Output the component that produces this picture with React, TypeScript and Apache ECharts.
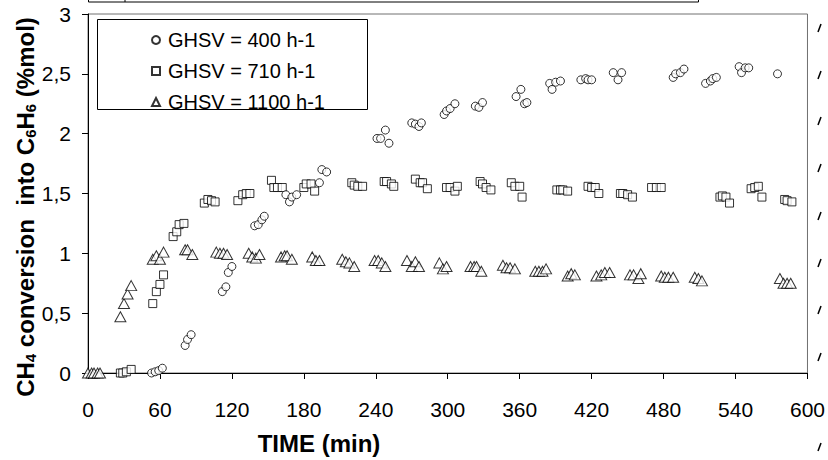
import React, { useEffect, useRef } from 'react';
import * as echarts from 'echarts';

const xTicks = { min: 0, max: 600, interval: 60 };
const yTicks = { min: 0, max: 3, interval: 0.5 };

const seriesNames = ['GHSV = 400 h-1', 'GHSV = 710 h-1', 'GHSV = 1100 h-1'];

const time400 = [53, 56, 59, 62, 81, 83, 86, 112, 115, 117, 120, 139, 142, 145, 147, 165, 168, 170, 174, 193, 195, 199, 241, 244, 248, 251, 270, 273, 276, 278, 297, 299, 302, 306, 323, 326, 329, 357, 361, 364, 366, 385, 387, 390, 394, 411, 415, 417, 420, 438, 442, 445, 488, 490, 494, 497, 515, 519, 521, 524, 543, 545, 548, 551, 575];
const conv400 = [0, 0.01, 0.02, 0.04, 0.23, 0.28, 0.32, 0.68, 0.72, 0.84, 0.89, 1.23, 1.24, 1.28, 1.31, 1.49, 1.43, 1.47, 1.49, 1.59, 1.7, 1.68, 1.96, 1.96, 2.03, 1.92, 2.09, 2.08, 2.06, 2.09, 2.16, 2.19, 2.21, 2.25, 2.23, 2.22, 2.26, 2.31, 2.37, 2.25, 2.26, 2.42, 2.37, 2.43, 2.44, 2.45, 2.46, 2.45, 2.45, 2.51, 2.45, 2.51, 2.47, 2.5, 2.51, 2.54, 2.42, 2.44, 2.46, 2.47, 2.56, 2.51, 2.55, 2.55, 2.5];

const time710 = [27, 29, 32, 36, 54, 57, 60, 63, 71, 74, 76, 80, 97, 100, 103, 106, 125, 129, 132, 135, 153, 155, 158, 162, 180, 182, 186, 189, 220, 222, 225, 229, 247, 249, 253, 255, 273, 277, 279, 283, 299, 302, 306, 308, 327, 329, 332, 336, 353, 356, 360, 362, 391, 394, 396, 400, 417, 420, 423, 426, 444, 446, 450, 454, 470, 474, 478, 527, 529, 532, 535, 553, 556, 559, 562, 581, 583, 587];
const conv710 = [0, 0, 0.01, 0.03, 0.58, 0.68, 0.74, 0.82, 1.14, 1.18, 1.24, 1.25, 1.42, 1.45, 1.44, 1.43, 1.44, 1.49, 1.5, 1.5, 1.61, 1.55, 1.55, 1.55, 1.55, 1.58, 1.58, 1.52, 1.59, 1.57, 1.56, 1.56, 1.6, 1.6, 1.58, 1.56, 1.62, 1.59, 1.59, 1.54, 1.55, 1.55, 1.52, 1.56, 1.6, 1.58, 1.55, 1.53, 1.59, 1.56, 1.56, 1.47, 1.53, 1.53, 1.53, 1.52, 1.56, 1.55, 1.55, 1.5, 1.5, 1.5, 1.49, 1.47, 1.55, 1.55, 1.55, 1.47, 1.48, 1.47, 1.42, 1.54, 1.55, 1.56, 1.47, 1.45, 1.44, 1.43];

const time1100 = [0, 3, 5, 8, 10, 27, 30, 33, 36, 54, 57, 60, 63, 81, 83, 87, 107, 110, 113, 116, 134, 137, 140, 143, 161, 164, 166, 170, 187, 190, 193, 212, 215, 218, 222, 239, 242, 245, 248, 266, 270, 273, 276, 293, 296, 299, 319, 322, 324, 328, 346, 349, 352, 356, 373, 376, 379, 382, 400, 403, 406, 424, 428, 431, 435, 452, 455, 459, 461, 478, 481, 484, 488, 506, 509, 512, 577, 580, 583, 586];
const conv1100 = [0, 0, 0, 0, 0, 0.47, 0.58, 0.66, 0.73, 0.95, 0.98, 0.95, 1.01, 1.03, 1.03, 0.99, 1.01, 1.0, 1.0, 0.99, 1.0, 0.97, 0.96, 0.99, 0.97, 0.98, 0.98, 0.95, 0.97, 0.94, 0.94, 0.95, 0.93, 0.92, 0.89, 0.94, 0.94, 0.92, 0.89, 0.94, 0.89, 0.93, 0.89, 0.92, 0.87, 0.89, 0.89, 0.89, 0.89, 0.85, 0.9, 0.88, 0.88, 0.87, 0.85, 0.85, 0.85, 0.87, 0.81, 0.83, 0.82, 0.81, 0.82, 0.84, 0.84, 0.82, 0.82, 0.79, 0.83, 0.81, 0.8, 0.8, 0.8, 0.8, 0.79, 0.77, 0.79, 0.75, 0.75, 0.75];

// clipped glyph fragments visible at the right edge of the picture (page y positions)
const edgeMarkY = [28, 75, 121, 168, 216, 263, 310, 357, 447];

const FONT = 'Arial, "Liberation Sans", sans-serif';

function zip(xs: number[], ys: number[]) {
  return xs.map((x, i) => [x, ys[i]]);
}

export default function App() {
  const ref = useRef<HTMLDivElement>(null);
  useEffect(() => {
    if (!ref.current) return;
    const chart = echarts.init(ref.current, undefined, { renderer: 'svg' });
    const markerStyle = { color: '#ffffff', borderColor: '#000000', borderWidth: 1 };
    const edgeMarks = edgeMarkY.map((y) => ({
      type: 'line',
      z: 5,
      shape: { x1: 818, y1: y + 4, x2: 821, y2: y - 4 },
      style: { stroke: '#000', lineWidth: 1.5 },
    }));
    const option: any = {
      animation: false,
      backgroundColor: '#ffffff',
      textStyle: { fontFamily: FONT },
      grid: {
        left: 88,
        top: 14,
        right: 19,
        bottom: 87,
        show: true,
        borderColor: '#707070',
        borderWidth: 1,
      },
      legend: {
        orient: 'vertical',
        left: 146,
        top: 25,
        itemWidth: 8,
        itemHeight: 8,
        itemGap: 11,
        data: seriesNames,
        textStyle: { fontSize: 20, color: '#000', fontFamily: FONT, lineHeight: 20, padding: [0, 0, 0, 3] },
      },
      xAxis: {
        type: 'value',
        min: xTicks.min,
        max: xTicks.max,
        interval: xTicks.interval,
        axisLine: { lineStyle: { color: '#000', width: 1 } },
        axisTick: { show: true, length: 6, inside: false, lineStyle: { color: '#000' } },
        axisLabel: { fontSize: 21, color: '#000', margin: 26, fontFamily: FONT },
        splitLine: { show: false },
      },
      yAxis: {
        type: 'value',
        min: yTicks.min,
        max: yTicks.max,
        interval: yTicks.interval,
        axisLine: { show: true, lineStyle: { color: '#000', width: 1 } },
        axisTick: { show: true, length: 6, inside: false, lineStyle: { color: '#000' } },
        axisLabel: {
          fontSize: 21,
          color: '#000',
          margin: 17,
          fontFamily: FONT,
          formatter: (v: number) => String(v).replace('.', ','),
        },
        splitLine: { show: false },
      },
      series: [
        {
          name: seriesNames[2],
          type: 'scatter',
          symbol: 'triangle',
          symbolSize: [11, 10],
          itemStyle: markerStyle,
          data: zip(time1100, conv1100),
          z: 2,
        },
        {
          name: seriesNames[1],
          type: 'scatter',
          symbol: 'rect',
          symbolSize: 8,
          itemStyle: markerStyle,
          data: zip(time710, conv710),
          z: 3,
        },
        {
          name: seriesNames[0],
          type: 'scatter',
          symbol: 'circle',
          symbolSize: 8,
          itemStyle: markerStyle,
          data: zip(time400, conv400),
          z: 4,
        },
      ],
      graphic: [
        {
          type: 'rect',
          z: 1,
          shape: { x: 88.5, y: -30, width: 610, height: 32 },
          style: { fill: '#fff', stroke: '#000', lineWidth: 1 },
        },
        {
          type: 'line',
          z: 2,
          shape: { x1: 125, y1: 0, x2: 125, y2: 2 },
          style: { stroke: '#000', lineWidth: 1 },
        },
        {
          type: 'rect',
          z: 5,
          shape: { x: 97.5, y: 19.5, width: 270, height: 90 },
          style: { fill: 'rgba(255,255,255,0)', stroke: '#000', lineWidth: 1 },
        },
        {
          type: 'text',
          z: 5,
          x: 25,
          y: 207,
          rotation: Math.PI / 2,
          style: {
            text: '{b|CH}{s|4}{b| conversion  into C}{s|6}{b|H}{s|6}{b| (%mol)}',
            align: 'center',
            verticalAlign: 'middle',
            fill: '#000',
            rich: {
              b: { fontSize: 24, fontWeight: 'bold', fontFamily: FONT, fill: '#000' },
              s: { fontSize: 15, fontWeight: 'bold', fontFamily: FONT, fill: '#000', padding: [11, 0, 0, 0] },
            },
          },
        },
        {
          type: 'text',
          z: 5,
          x: 319,
          y: 443,
          style: {
            text: 'TIME (min)',
            align: 'center',
            verticalAlign: 'middle',
            font: 'bold 24px ' + FONT,
            fill: '#000',
          },
        },
        ...edgeMarks,
      ],
    };
    chart.setOption(option);
    return () => chart.dispose();
  }, []);
  return (
    <div
      ref={ref}
      style={{ position: 'fixed', left: 0, top: 0, width: 828, height: 460, background: '#fff' }}
    />
  );
}
